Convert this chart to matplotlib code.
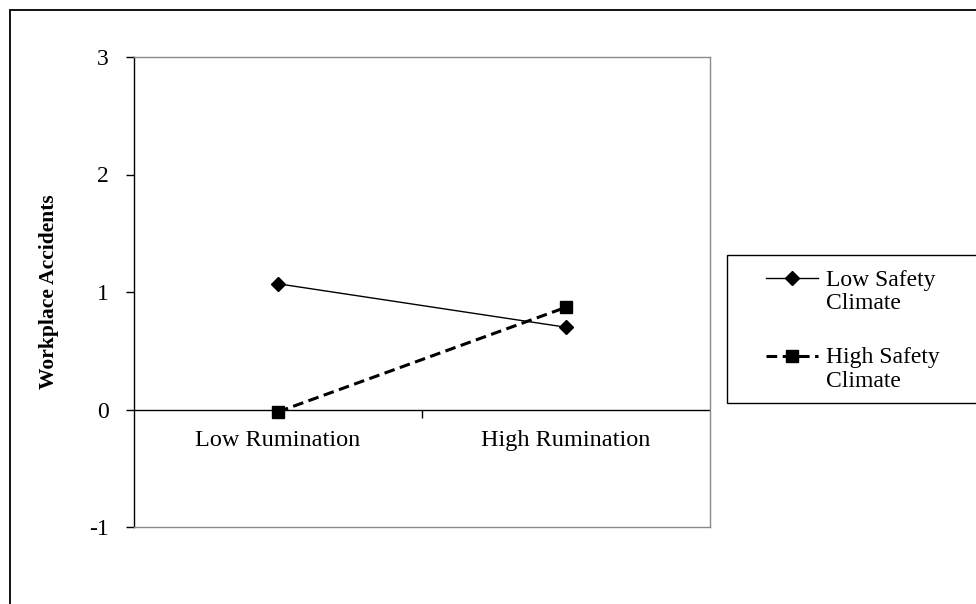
import numpy as np
import matplotlib
matplotlib.use("Agg")
import matplotlib.pyplot as plt
from matplotlib.patches import Rectangle
from matplotlib.legend_handler import HandlerLine2D

plt.rcParams['font.family'] = ['Liberation Serif', 'DejaVu Serif']

categories = ["Low Rumination", "High Rumination"]
low_safety = [1.07, 0.70]
high_safety = [-0.02, 0.87]
series_names = ["Low Safety\nClimate", "High Safety\nClimate"]
yticks = [-1, 0, 1, 2, 3]


class FirstLineHandler(HandlerLine2D):
    # put the legend sample next to the first line of a two-line label
    def create_artists(self, legend, orig_handle, xdescent, ydescent, width, height, fontsize, trans):
        arts = super().create_artists(legend, orig_handle, xdescent, ydescent, width, height, fontsize, trans)
        for a in arts:
            a.set_ydata(np.asarray(a.get_ydata()) + 10)
        return arts


fig = plt.figure(figsize=(9.76, 6.04), dpi=100)
W, H = 976, 604

# outer frame of the picture (right and bottom edges fall outside the image)
fig.patches.append(Rectangle((10 / W, -0.1), 1.2, 1.1 - 10 / H, transform=fig.transFigure,
                             fill=False, edgecolor='black', linewidth=1.3))
# legend box
fig.patches.append(Rectangle((727 / W, 1 - 403 / H), 260 / W, 148 / H, transform=fig.transFigure,
                             fill=False, edgecolor='black', linewidth=1.0))

ax = fig.add_axes([134 / W, 1 - 527 / H, 576 / W, 470 / H])
x = np.arange(len(categories))

ax.axhline(0, color='black', linewidth=1.0, zorder=1)
ax.vlines(0.5, -0.07, 0, color='black', linewidth=1.0)

l1, = ax.plot(x, low_safety, color='black', linewidth=1.0, marker='D',
              markersize=7, zorder=3)
l2, = ax.plot(x, high_safety, color='black', linewidth=2.2, linestyle=(0, (3.5, 1.8)),
              marker='s', markersize=8, zorder=3)

ax.set_xlim(-0.5, 1.5)
ax.set_ylim(-1, 3)
ax.set_yticks(yticks)
ax.set_yticklabels([str(v) for v in yticks], fontsize=17)
ax.tick_params(axis='y', direction='out', length=6, width=1, pad=12, colors='black')
ax.set_xticks([])

for i, c in enumerate(categories):
    ax.text(x[i], -0.26, c, ha='center', va='center', fontsize=17.5)

ax.spines['left'].set_color('black')
for s in ['top', 'right', 'bottom']:
    ax.spines[s].set_color('#8a8a8a')
for s in ax.spines.values():
    s.set_linewidth(1.0)

ax.set_ylabel("Workplace Accidents", fontsize=15.5, fontweight='bold', labelpad=22)

leg = fig.legend([l1, l2], series_names, loc='upper left',
                 bbox_to_anchor=(766 / W, 1 - 270 / H), fontsize=17,
                 frameon=False, handlelength=2.2, handletextpad=0.34,
                 borderpad=0, labelspacing=1.4, borderaxespad=0,
                 handler_map={l1: FirstLineHandler(), l2: FirstLineHandler()})
for t in leg.get_texts():
    t.set_linespacing(1.15)

fig.savefig("out.png", dpi=100)
